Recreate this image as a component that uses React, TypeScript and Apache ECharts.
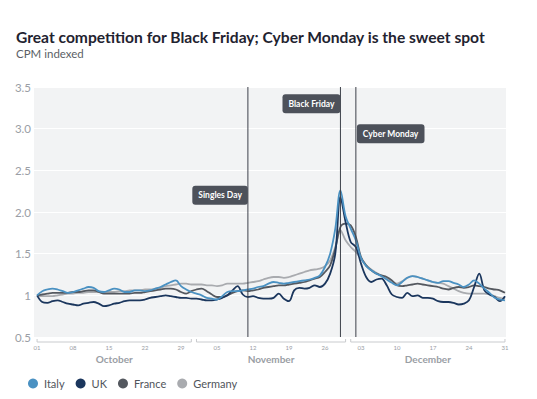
import React, { useEffect, useRef } from "react";
import * as echarts from "echarts";

// Day index 0 = 1 October, 91 = 31 December
const xTickDays = [0, 7, 14, 21, 28, 35, 42, 49, 56, 63, 70, 77, 84, 91];
const xTickLabels = ["01", "08", "15", "22", "29", "05", "12", "19", "26", "03", "10", "17", "24", "31"];
const yTickLabels = ["0.5", "1", "1.5", "2.0", "2.5", "3.0", "3.5"];

const months = ["October", "November", "December"];
const monthRanges = [
  [0, 30],
  [31, 60],
  [61, 91],
];

const eventNames = ["Singles Day", "Black Friday", "Cyber Monday"];
const eventDays = [41, 59, 62];
const eventLabelLevels = [2.2, 3.3, 2.94];
const eventSides = ["left", "left", "right"];

const seriesNames = ["Italy", "UK", "France", "Germany"];
const seriesColors = ["#4a91c2", "#1b365d", "#54585f", "#a9abaf"];

const italy = [
  1.0, 1.05, 1.07, 1.08, 1.07, 1.05, 1.03, 1.04, 1.06, 1.08,
  1.1, 1.09, 1.05, 1.04, 1.06, 1.08, 1.07, 1.04, 1.04, 1.06,
  1.06, 1.05, 1.06, 1.08, 1.1, 1.13, 1.16, 1.18, 1.11, 1.07,
  1.04, 1.02, 1.0, 0.97, 0.96, 0.95, 0.99, 1.04, 1.05, 1.05,
  1.06, 1.07, 1.08, 1.1, 1.11, 1.14, 1.16, 1.15, 1.14, 1.15,
  1.16, 1.17, 1.18, 1.19, 1.21, 1.24, 1.34, 1.5, 1.8, 2.26,
  1.95, 1.8, 1.66, 1.45, 1.35, 1.3, 1.26, 1.23, 1.19, 1.15,
  1.12, 1.16, 1.21, 1.23, 1.22, 1.2, 1.18, 1.16, 1.15, 1.17,
  1.17, 1.15, 1.13, 1.1, 1.13, 1.18, 1.14, 1.08, 1.03, 0.97,
  0.95, 0.94,
];
const uk = [
  1.0, 0.92, 0.91, 0.93, 0.94, 0.92, 0.9, 0.89, 0.88, 0.9,
  0.91, 0.92, 0.9, 0.87, 0.88, 0.9, 0.91, 0.93, 0.94, 0.94,
  0.94, 0.95, 0.97, 0.98, 0.99, 1.0, 0.99, 0.98, 0.97, 0.97,
  0.96, 0.96, 0.95, 0.94, 0.94, 0.95, 0.97, 1.0, 1.06, 1.11,
  1.01, 0.98, 0.99, 0.97, 0.96, 0.96, 0.97, 1.02, 0.96, 0.93,
  1.06, 1.09, 1.08, 1.09, 1.12, 1.1, 1.14, 1.26, 1.5, 2.18,
  1.88, 1.64, 1.58, 1.38, 1.22, 1.16, 1.19, 1.2, 1.12, 1.01,
  0.98, 0.97, 1.03, 0.99, 1.0, 0.97, 0.97, 0.96, 0.93, 0.92,
  0.92, 0.91, 0.89, 0.9, 0.94, 1.1, 1.26, 1.06, 1.01, 0.98,
  0.93, 0.99,
];
const france = [
  1.0, 1.01, 1.02, 1.03, 1.03, 1.03, 1.03, 1.04, 1.04, 1.05,
  1.06, 1.06, 1.04, 1.02, 1.02, 1.02, 1.02, 1.02, 1.02, 1.03,
  1.03, 1.04, 1.05, 1.06, 1.07, 1.08, 1.08, 1.07, 1.04, 1.02,
  1.05, 1.07, 1.08, 1.05, 1.01, 0.98, 0.98, 1.0, 1.03, 1.05,
  1.06, 1.05, 1.06, 1.07, 1.09, 1.1, 1.11, 1.12, 1.12, 1.13,
  1.14, 1.15, 1.16, 1.18, 1.2, 1.22, 1.28, 1.36, 1.56, 1.82,
  1.86, 1.84, 1.7, 1.46, 1.36, 1.3, 1.26, 1.24, 1.22, 1.18,
  1.12, 1.11, 1.12, 1.13, 1.14, 1.13, 1.12, 1.11, 1.1, 1.08,
  1.07, 1.09, 1.1, 1.09, 1.1, 1.12, 1.11, 1.1, 1.08, 1.07,
  1.06, 1.03,
];
const germany = [
  1.0, 0.99, 0.99, 0.99, 1.0, 1.01, 1.02, 1.02, 1.03, 1.03,
  1.04, 1.04, 1.04, 1.04, 1.04, 1.04, 1.05, 1.05, 1.06, 1.06,
  1.06, 1.07, 1.07, 1.08, 1.09, 1.11, 1.12, 1.13, 1.14, 1.14,
  1.13, 1.13, 1.13, 1.12, 1.12, 1.11, 1.12, 1.14, 1.14, 1.14,
  1.14, 1.15, 1.16, 1.17, 1.19, 1.21, 1.22, 1.22, 1.21, 1.22,
  1.24, 1.26, 1.28, 1.3, 1.31, 1.32, 1.35, 1.42, 1.58, 1.78,
  1.66, 1.58, 1.52, 1.44, 1.36, 1.31, 1.27, 1.23, 1.2, 1.17,
  1.14, 1.17, 1.21, 1.23, 1.22, 1.2, 1.18, 1.16, 1.15, 1.14,
  1.11, 1.08, 1.05, 1.03, 1.02, 1.02, 1.02, 1.02, 1.01, 0.99,
  0.97, 0.96,
];
const seriesValues = [italy, uk, france, germany];

const FONT = "Lato, 'Open Sans', sans-serif";

export default function App() {
  const ref = useRef<HTMLDivElement>(null);

  useEffect(() => {
    if (!ref.current) return;
    const chart = echarts.init(ref.current, undefined, { renderer: "svg" });

    const lineSeries = seriesNames.map((name, i) => ({
      name,
      type: "line",
      data: seriesValues[i].map((v, d) => [d, v]),
      showSymbol: false,
      symbol: "circle",
      smooth: 0.35,
      color: seriesColors[i],
      lineStyle: { width: 1.8, color: seriesColors[i] },
      z: 3,
    }));
    // draw order: Germany, France, UK, Italy
    const ordered = [lineSeries[3], lineSeries[2], lineSeries[1], lineSeries[0]];

    const option: any = {
      animation: false,
      textStyle: { fontFamily: FONT },
      title: {
        text: "Great competition for Black Friday; Cyber Monday is the sweet spot",
        subtext: "CPM indexed",
        left: 11,
        top: 24,
        itemGap: 2,
        textStyle: { fontFamily: FONT, fontSize: 15.6, fontWeight: "bold", color: "#1f2330" },
        subtextStyle: { fontFamily: FONT, fontSize: 11.5, color: "#5b5f66" },
      },
      legend: {
        data: seriesNames,
        left: 23,
        top: 373,
        icon: "circle",
        itemWidth: 10,
        itemHeight: 10,
        itemGap: 11,
        textStyle: { fontFamily: FONT, fontSize: 11, color: "#50545b", padding: [0, 0, 0, 1] },
      },
      grid: {
        left: 34,
        right: 31,
        top: 87,
        bottom: 62,
        show: true,
        backgroundColor: "#f2f3f4",
        borderWidth: 0,
      },
      xAxis: {
        type: "value",
        min: -0.6,
        max: 91.2,
        axisLine: { show: false },
        axisTick: { show: false },
        splitLine: { show: false },
        axisLabel: {
          customValues: xTickDays,
          formatter: (v: number) => {
            const i = xTickDays.indexOf(v);
            return i >= 0 ? xTickLabels[i] : "";
          },
          fontSize: 6,
          color: "#9a9ea5",
          margin: 7,
          fontFamily: FONT,
        },
      },
      yAxis: {
        type: "value",
        min: 0.5,
        max: 3.5,
        interval: 0.5,
        axisLine: { show: false },
        axisTick: { show: false },
        splitLine: { show: true, lineStyle: { color: "#ffffff", width: 1 } },
        axisLabel: {
          formatter: (_v: number, i: number) => yTickLabels[i],
          fontSize: 11.5,
          color: "#9a9ea5",
          margin: 3,
          fontFamily: FONT,
        },
      },
      series: [
        ...ordered,
        {
          type: "custom",
          name: "months",
          clip: false,
          silent: true,
          z: 5,
          encode: { x: [0, 1] },
          data: monthRanges,
          renderItem: (params: any, api: any) => {
            const p1 = api.coord([api.value(0), 0.5]);
            const p2 = api.coord([api.value(1), 0.5]);
            const y = p1[1] + 5;
            return {
              type: "group",
              children: [
                {
                  type: "polyline",
                  shape: {
                    points: [
                      [p1[0], y - 3],
                      [p1[0], y],
                      [p2[0], y],
                      [p2[0], y - 3],
                    ],
                  },
                  style: { stroke: "#c9cbce", lineWidth: 1, fill: "none" },
                },
                {
                  type: "text",
                  x: (p1[0] + p2[0]) / 2,
                  y: y + 17,
                  style: {
                    text: months[params.dataIndex],
                    align: "center",
                    verticalAlign: "middle",
                    textAlign: "center",
                    textVerticalAlign: "middle",
                    fill: "#9a9ea5",
                    font: `bold 10px ${FONT}`,
                  },
                },
              ],
            };
          },
        },
        {
          type: "custom",
          name: "events",
          clip: false,
          silent: true,
          z: 6,
          encode: { x: 0, y: 1 },
          data: eventDays.map((d, i) => [d, eventLabelLevels[i]]),
          renderItem: (params: any, api: any) => {
            const cs = params.coordSys;
            const pt = api.coord([api.value(0), api.value(1)]);
            const side = eventSides[params.dataIndex];
            const x = pt[0];
            return {
              type: "group",
              children: [
                {
                  type: "line",
                  shape: { x1: x, y1: cs.y, x2: x, y2: cs.y + cs.height },
                  style: { stroke: "#3d414a", lineWidth: 1 },
                },
                {
                  type: "text",
                  x: side === "left" ? x : x + 1,
                  y: pt[1],
                  style: {
                    text: eventNames[params.dataIndex],
                    align: side === "left" ? "right" : "left",
                    textAlign: side === "left" ? "right" : "left",
                    verticalAlign: "middle",
                    textVerticalAlign: "middle",
                    fill: "#ffffff",
                    font: `bold 8.5px ${FONT}`,
                    backgroundColor: "#4d515a",
                    padding: [5, 6, 5, 6],
                    borderRadius: 3,
                  },
                },
              ],
            };
          },
        },
      ],
    };

    chart.setOption(option);
    return () => chart.dispose();
  }, []);

  return <div ref={ref} style={{ width: 537, height: 399, position: "absolute", left: 0, top: 0 }} />;
}
